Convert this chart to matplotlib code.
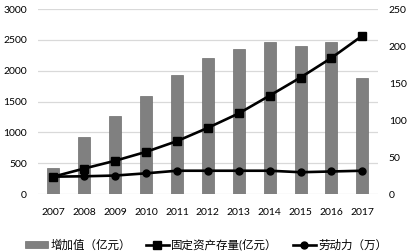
import matplotlib
matplotlib.use("Agg")
import matplotlib.pyplot as plt
import numpy as np

plt.rcParams['font.family'] = ['Lato', 'Noto Sans CJK SC', 'DejaVu Sans']

years = ['2007', '2008', '2009', '2010', '2011', '2012', '2013', '2014', '2015', '2016', '2017']
added_value = [430, 930, 1260, 1585, 1930, 2210, 2360, 2460, 2395, 2460, 1885]
fixed_assets = [23.5, 34.5, 45, 57, 71.5, 89.5, 109, 133, 157.5, 184, 214]
labor = [23.5, 24, 25, 28, 31.5, 31.5, 31.5, 31.5, 29.5, 30.5, 31.5]

fig = plt.figure(figsize=(4.12, 2.52), dpi=100)
ax = fig.add_axes([0.092, 0.230, 0.825, 0.734])
ax2 = ax.twinx()

x = np.arange(len(years))
bars = ax.bar(x, added_value, width=0.39, color='#808080', edgecolor='#6e6e6e',
              linewidth=0.5, label='增加值（亿元）', zorder=2)
ax.set_ylim(0, 3000)
ax.set_yticks(range(0, 3001, 500))
ax.set_xlim(-0.5, len(years) - 0.5)
ax.set_xticks(x)
ax.set_xticklabels(years)
ax.grid(axis='y', color='#d9d9d9', linewidth=0.9, zorder=0)
ax.set_axisbelow(True)

l1, = ax2.plot(x, fixed_assets, color='black', linewidth=1.9, marker='s',
               markersize=5.5, label='固定资产存量(亿元）')
l2, = ax2.plot(x, labor, color='black', linewidth=1.9, marker='o',
               markersize=5, label='劳动力（万）')
ax2.set_ylim(0, 250)
ax2.set_yticks(range(0, 251, 50))

for a in (ax, ax2):
    for s in a.spines.values():
        s.set_visible(False)
    a.tick_params(length=0, labelsize=7.5, colors='black')
ax.tick_params(axis='x', pad=10)
ax.tick_params(axis='y', pad=8)
ax2.tick_params(axis='y', pad=8)

fig.legend([bars, l1, l2], ['增加值（亿元）', '固定资产存量(亿元）', '劳动力（万）'],
           loc='center', bbox_to_anchor=(0.5, 0.028), ncol=3, frameon=False,
           fontsize=8.3, handlelength=2.0, handleheight=0.5, handletextpad=0.2,
           columnspacing=1.3)

fig.savefig('out.png', dpi=100)
